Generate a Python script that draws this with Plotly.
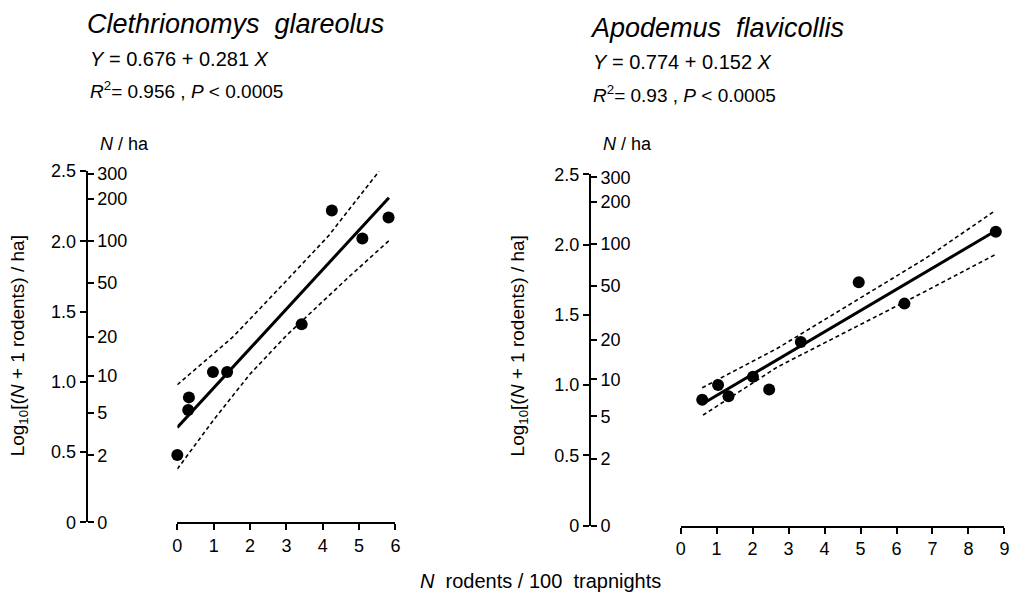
import numpy as np
import plotly.graph_objects as go

W, H = 1025, 603
FONT = "Liberation Sans"

# ---------------- data ----------------
# Clethrionomys glareolus
cg_x = [0.0, 0.30, 0.32, 0.98, 1.37, 3.42, 4.25, 5.09, 5.81]
cg_y = [0.48, 0.80, 0.89, 1.07, 1.07, 1.41, 2.22, 2.02, 2.17]
cg_fit_x = [0.0, 5.82]
cg_fit_y = [0.676, 2.311]
cg_up_x = [0.0, 1.53, 3.0, 4.16, 5.55]
cg_up_y = [0.98, 1.32, 1.72, 2.04, 2.50]
cg_lo_x = [0.0, 1.0, 2.0, 3.0, 4.71, 5.84]
cg_lo_y = [0.38, 0.73, 1.056, 1.33, 1.745, 2.01]

# Apodemus flavicollis
af_x = [0.60, 1.04, 1.33, 2.01, 2.46, 3.34, 4.95, 6.22, 8.76]
af_y = [0.895, 1.00, 0.92, 1.06, 0.968, 1.307, 1.732, 1.58, 2.092]
af_fit_x = [0.6, 8.7]
af_fit_y = [0.865, 2.09]
af_up_x = [0.6, 2.69, 6.82, 8.74]
af_up_y = [0.981, 1.262, 1.904, 2.241]
af_lo_x = [0.62, 2.69, 6.82, 8.76]
af_lo_y = [0.786, 1.129, 1.67, 1.931]

# axis ticks
log_ticks = [0, 0.5, 1.0, 1.5, 2.0, 2.5]
log_labels = ["0", "0.5", "1.0", "1.5", "2.0", "2.5"]
n_ticks = [0, 2, 5, 10, 20, 50, 100, 200, 300]
n_ticks_pos = [float(np.log10(n + 1)) for n in n_ticks]

titles = ["Clethrionomys\u00a0 glareolus", "Apodemus\u00a0 flavicollis"]
eqs = ["<i>Y</i> = 0.676 + 0.281 <i>X</i>", "<i>Y</i> = 0.774 + 0.152 <i>X</i>"]
r2s = ["<i>R</i><sup>2</sup>= 0.956 , <i>P</i> &lt; 0.0005",
       "<i>R</i><sup>2</sup>= 0.93 , <i>P</i> &lt; 0.0005"]


def px(x):
    return x / W


def py(y):
    return 1 - y / H


fig = go.Figure()

panels = [
    dict(xs=cg_x, ys=cg_y, fx=cg_fit_x, fy=cg_fit_y, ux=cg_up_x, uy=cg_up_y,
         lx=cg_lo_x, ly=cg_lo_y, xa="x", ya="y", ya2="y2"),
    dict(xs=af_x, ys=af_y, fx=af_fit_x, fy=af_fit_y, ux=af_up_x, uy=af_up_y,
         lx=af_lo_x, ly=af_lo_y, xa="x2", ya="y3", ya2="y4"),
]

for p in panels:
    for bx, by in ((p["ux"], p["uy"]), (p["lx"], p["ly"])):
        fig.add_trace(go.Scatter(x=bx, y=by, mode="lines", xaxis=p["xa"], yaxis=p["ya"],
                                 line=dict(color="black", width=1.6, dash="4px,3px"),
                                 showlegend=False, hoverinfo="skip"))
    fig.add_trace(go.Scatter(x=p["fx"], y=p["fy"], mode="lines", xaxis=p["xa"], yaxis=p["ya"],
                             line=dict(color="black", width=3), showlegend=False))
    fig.add_trace(go.Scatter(x=p["xs"], y=p["ys"], mode="markers", xaxis=p["xa"], yaxis=p["ya"],
                             marker=dict(color="black", size=12), cliponaxis=False,
                             showlegend=False))
    # invisible trace so that the N / ha axis is drawn
    fig.add_trace(go.Scatter(x=[None], y=[None], mode="markers", xaxis=p["xa"], yaxis=p["ya2"],
                             showlegend=False, hoverinfo="skip"))

tickfont = dict(family=FONT, size=18, color="black")
common_x = dict(showgrid=False, zeroline=False, showline=True, linecolor="black", linewidth=2,
                ticks="outside", ticklen=6, tickwidth=2, tickcolor="black", tickfont=tickfont,
                fixedrange=True)
common_y = dict(showgrid=False, zeroline=False, range=[0, 2.5], fixedrange=True,
                ticks="outside", ticklen=6, tickwidth=2, tickcolor="black", tickfont=tickfont)

# panel geometry (pixels)
L = dict(x0=174, x1=394.3, yb=530, yt=166.7, ax=82.5)
R = dict(x0=682.3, x1=1009.3, yb=533.3, yt=170, ax=590.7)

fig.update_layout(
    width=W, height=H, margin=dict(l=0, r=0, t=0, b=0),
    paper_bgcolor="white", plot_bgcolor="rgba(0,0,0,0)",
    font=dict(family=FONT, color="black"),
    xaxis=dict(domain=[px(L["x0"]), px(L["x1"])], range=[0, 6], anchor="y",
               tickvals=list(range(7)), **common_x),
    yaxis=dict(domain=[py(L["yb"]), py(L["yt"])], anchor="free", position=px(L["ax"]),
               side="left", showline=True, linecolor="black", linewidth=2,
               tickvals=log_ticks, ticktext=log_labels, **common_y),
    yaxis2=dict(overlaying="y", anchor="free", position=px(L["ax"]), side="right",
                showline=False, tickvals=n_ticks_pos, ticktext=[str(n) for n in n_ticks],
                **common_y),
    xaxis2=dict(domain=[px(R["x0"]), px(R["x1"])], range=[0, 9], anchor="y3",
                tickvals=list(range(10)), **common_x),
    yaxis3=dict(domain=[py(R["yb"]), py(R["yt"])], anchor="free", position=px(R["ax"]),
                side="left", showline=True, linecolor="black", linewidth=2,
                tickvals=log_ticks, ticktext=log_labels, **common_y),
    yaxis4=dict(overlaying="y3", anchor="free", position=px(R["ax"]), side="right",
                showline=False, tickvals=n_ticks_pos, ticktext=[str(n) for n in n_ticks],
                **common_y),
)

ann = []


def add_ann(text, x, y, size, xanchor="left", angle=0):
    ann.append(dict(text=text, x=px(x), y=py(y), xref="paper", yref="paper",
                    xanchor=xanchor, yanchor="middle", showarrow=False, textangle=angle,
                    font=dict(family=FONT, size=size, color="black")))


for i, (tx, ax_px, ytitle_x) in enumerate(((81, 82.5, 15), (589, 590.7, 520))):
    add_ann("<i>" + titles[i] + "</i>", tx, 14 if i == 0 else 19, 27)
    add_ann(eqs[i], tx + 3, 51 if i == 0 else 54, 20)
    add_ann(r2s[i], tx + 3, 83 if i == 0 else 87, 19)
    add_ann("<i>N</i> / ha", ax_px + 11, 139, 18)
    add_ann("Log<sub>10</sub>[(<i>N</i> + 1 rodents) / ha]", ytitle_x, 347, 19,
            xanchor="center", angle=-90)

add_ann("<i>N</i>\u00a0 rodents / 100\u00a0 trapnights", 541, 591, 20, xanchor="center")
fig.update_layout(annotations=ann)

fig.write_html("out.html")
